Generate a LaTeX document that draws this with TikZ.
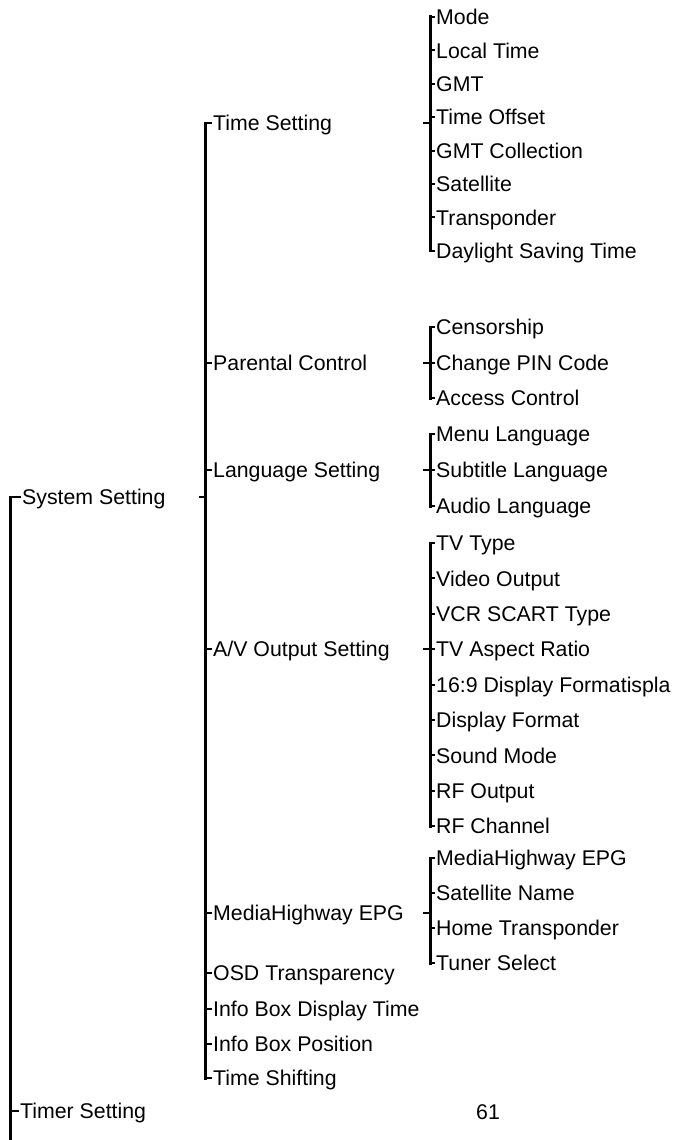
\documentclass[tikz,border=0pt]{standalone}
\usepackage{fontspec}
\setmainfont{Liberation Sans}

\begin{document}
\begin{tikzpicture}[x=1pt, y=-1pt,
    every node/.style={font=\fontsize{21.3}{25}\selectfont, anchor=west,
      inner xsep=1pt, inner ysep=0pt, text height=15.3pt, text depth=0pt},
    trunk/.style={line width=3pt, line cap=rect},
    twig/.style={line width=2pt}]
    \useasboundingbox (0,0) rectangle (675,1140);
    \coordinate (c1) at (10,0);
    \coordinate (c2) at (205.5,0);
    \coordinate (c3) at (430,0);
    \coordinate (bottom) at (10,1142);

    % top level
    \node (sysset) at (21,497) {System Setting};
    \node (timerset) at (19,1111) {Timer Setting};
    \draw[trunk] (sysset.west -| c1) -- (bottom);
    \foreach \n in {sysset,timerset} \draw[twig] (\n.west -| c1) -- (\n.west);
    \draw[twig] (sysset.west -| c2) -- ++(-7,0);

    % system setting items
    \foreach \n/\t/\y in {timeset/Time Setting/123, parental/Parental Control/363,
        langset/Language Setting/470, avout/{A/V Output Setting}/649,
        mhw/MediaHighway EPG/913, osd/OSD Transparency/973,
        infotime/Info Box Display Time/1009, infopos/Info Box Position/1044,
        tshift/Time Shifting/1078}
      {\node (\n) at (212,\y) {\t};
       \draw[twig] (\n.west -| c2) -- (\n.west);}
    \draw[trunk] (timeset.west -| c2) -- (tshift.west -| c2);

    % time setting
    \foreach \n/\t [count=\i from 0] in {mode/Mode, loctime/Local Time, gmt/GMT,
        toffset/Time Offset, gmtcoll/GMT Collection, sat/Satellite,
        tp/Transponder, dst/Daylight Saving Time}
      {\node (\n) at (435,{17+33.4*\i}) {\t};
       \draw[twig] (\n.west -| c3) -- (\n.west);}
    \draw[trunk] (mode.west -| c3) -- (dst.west -| c3);
    \draw[twig] (timeset.west -| c3) -- ++(-7,0);

    % parental control
    \foreach \n/\t [count=\i from 0] in {censor/Censorship,
        pin/Change PIN Code, access/Access Control}
      {\node (\n) at (435,{327+35.5*\i}) {\t};
       \draw[twig] (\n.west -| c3) -- (\n.west);}
    \draw[trunk] (censor.west -| c3) -- (access.west -| c3);
    \draw[twig] (parental.west -| c3) -- ++(-7,0);

    % language setting
    \foreach \n/\t [count=\i from 0] in {menulang/Menu Language,
        sublang/Subtitle Language, audlang/Audio Language}
      {\node (\n) at (435,{434+36*\i}) {\t};
       \draw[twig] (\n.west -| c3) -- (\n.west);}
    \draw[trunk] (menulang.west -| c3) -- (audlang.west -| c3);
    \draw[twig] (langset.west -| c3) -- ++(-7,0);

    % a/v output setting
    \foreach \n/\t [count=\i from 0] in {tvtype/TV Type, vidout/Video Output,
        vcr/VCR SCART Type, aspect/TV Aspect Ratio,
        wide/16:9 Display Formatispla, dispfmt/Display Format,
        sound/Sound Mode, rfout/RF Output, rfch/RF Channel}
      {\node (\n) at (435,{543+35.4*\i}) {\t};
       \draw[twig] (\n.west -| c3) -- (\n.west);}
    \draw[trunk] (tvtype.west -| c3) -- (rfch.west -| c3);
    \draw[twig] (avout.west -| c3) -- ++(-7,0);

    % mediahighway epg
    \foreach \n/\t [count=\i from 0] in {mhepg/MediaHighway EPG,
        satname/Satellite Name, hometp/Home Transponder, tuner/Tuner Select}
      {\node (\n) at (435,{858+35*\i}) {\t};
       \draw[twig] (\n.west -| c3) -- (\n.west);}
    \draw[trunk] (mhepg.west -| c3) -- (tuner.west -| c3);
    \draw[twig] (mhw.west -| c3) -- ++(-7,0);

    \node[anchor=center] (pagenum) at (488,1112) {61};
\end{tikzpicture}
\end{document}
